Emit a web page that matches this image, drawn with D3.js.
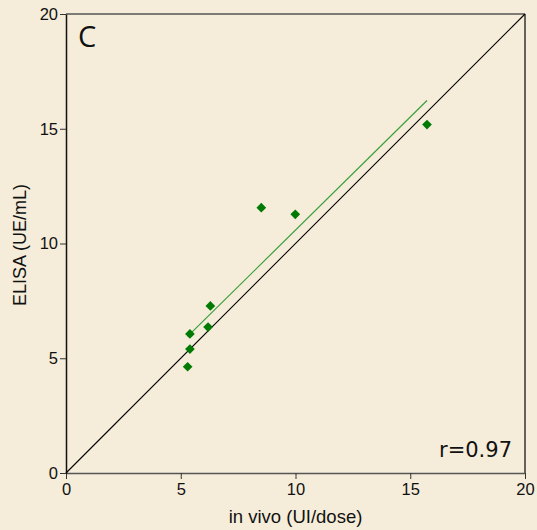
<!DOCTYPE html>
<html><head><meta charset="utf-8">
<script src="https://cdn.jsdelivr.net/npm/d3@7"></script>
<style>html,body{margin:0;padding:0;background:#F5EDDA;}</style>
</head><body>
<script>
const xValues = [15.73, 8.51, 9.99, 6.29, 6.19, 5.40, 5.40, 5.30];
const yValues = [15.18, 11.56, 11.27, 7.28, 6.36, 6.06, 5.40, 4.63];
const xTicks = [0, 5, 10, 15, 20];
const yTicks = [0, 5, 10, 15, 20];
const panelLabel = "C";
const rLabel = "r=0.97";
const xTitle = "in vivo (UI/dose)";
const yTitle = "ELISA (UE/mL)";

const W = 537, H = 530;
const m = {left: 66, top: 14, right: 12, bottom: 57};
const svg = d3.select("body").append("svg").attr("width", W).attr("height", H)
  .style("background", "#F5EDDA").style("display","block");
const x = d3.scaleLinear().domain([0, 20]).range([m.left, W - m.right]);
const y = d3.scaleLinear().domain([0, 20]).range([H - m.bottom, m.top]);

// frame top/right
svg.append("line").attr("x1", x(0)).attr("x2", x(20)).attr("y1", y(20)).attr("y2", y(20)).attr("stroke", "#555").attr("stroke-width", 1.5);
svg.append("line").attr("x1", x(20)).attr("x2", x(20)).attr("y1", y(0)).attr("y2", y(20)).attr("stroke", "#333").attr("stroke-width", 1.5);

const font = "'Liberation Sans', Arial, sans-serif";
const xa = svg.append("g").attr("transform", `translate(0,${y(0)})`)
  .call(d3.axisBottom(x).tickValues(xTicks).tickSize(6).tickPadding(4).tickSizeOuter(0));
const ya = svg.append("g").attr("transform", `translate(${x(0)},0)`)
  .call(d3.axisLeft(y).tickValues(yTicks).tickSize(6).tickPadding(2).tickSizeOuter(0));
[xa, ya].forEach(a => {
  a.selectAll("text").attr("font-family", font).attr("font-size", 16.5).attr("fill", "#111");
  a.selectAll("line").attr("stroke", "#333");
});
xa.select(".domain").attr("stroke", "#555").attr("stroke-width", 1.5);
ya.select(".domain").attr("stroke", "#111").attr("stroke-width", 1.5);

// identity line
svg.append("line").attr("x1", x(0)).attr("y1", y(0)).attr("x2", x(20)).attr("y2", y(20))
  .attr("stroke", "#000").attr("stroke-width", 1.1);

// regression line
const n = xValues.length;
const mx = d3.mean(xValues), my = d3.mean(yValues);
let sxy = 0, sxx = 0;
for (let i = 0; i < n; i++) { sxy += (xValues[i]-mx)*(yValues[i]-my); sxx += (xValues[i]-mx)**2; }
const b = sxy / sxx, a0 = my - b * mx;
const [xmin, xmax] = d3.extent(xValues);
svg.append("line").attr("x1", x(xmin)).attr("y1", y(a0 + b*xmin)).attr("x2", x(xmax)).attr("y2", y(a0 + b*xmax))
  .attr("stroke", "#3A9E3A").attr("stroke-width", 1.2);

// points
const sym = d3.symbol().type(d3.symbolDiamond2).size(60);
svg.selectAll(".pt").data(xValues.map((v, i) => [v, yValues[i]])).enter().append("path")
  .attr("class", "pt").attr("d", sym)
  .attr("transform", d => `translate(${x(d[0])},${y(d[1])})`)
  .attr("fill", "#007A00");

// labels
svg.append("text").attr("x", 78).attr("y", 47).text(panelLabel)
  .attr("font-family", "'Open Sans', sans-serif").attr("font-size", 29).attr("fill", "#111");
svg.append("text").attr("x", 512).attr("y", 457).attr("text-anchor", "end").text(rLabel)
  .attr("font-family", "'DejaVu Sans', sans-serif").attr("font-size", 21).attr("fill", "#111");
svg.append("text").attr("x", (x(0)+x(20))/2).attr("y", 523).attr("text-anchor", "middle").text(xTitle)
  .attr("font-family", font).attr("font-size", 18.5).attr("fill", "#111");
svg.append("text").attr("transform", `translate(26,245) rotate(-90)`).attr("text-anchor", "middle").text(yTitle)
  .attr("font-family", font).attr("font-size", 18).attr("fill", "#111");
</script>
</body></html>
